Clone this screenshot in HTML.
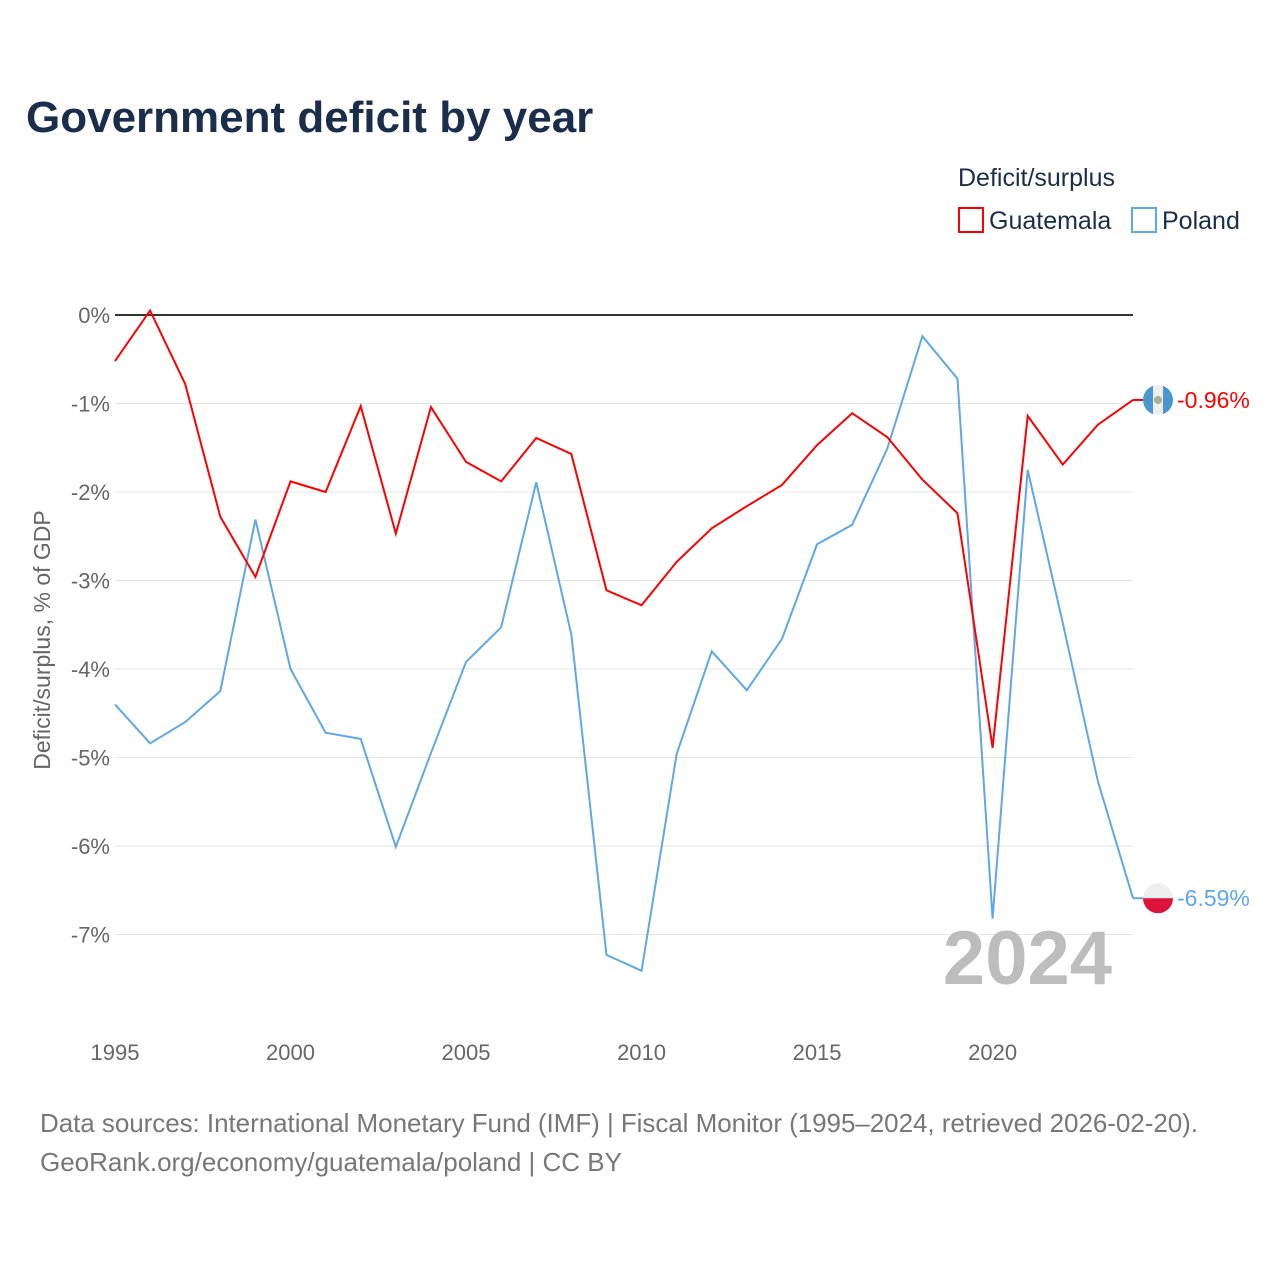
<!DOCTYPE html>
<html><head><meta charset="utf-8"><style>
body{margin:0;background:#fff;font-family:"Liberation Sans",sans-serif}
svg{display:block}
</style></head><body>
<svg id="chart" width="1280" height="1280" viewBox="0 0 1280 1280" font-family="Liberation Sans, sans-serif">
<defs id="defs"></defs>
<text x="26" y="132" font-size="44" font-weight="bold" fill="#1a2e4c">Government deficit by year</text>
<text x="958" y="186" font-size="25" fill="#1a2e4c">Deficit/surplus</text>
<g><rect x="959" y="208" width="24" height="24" fill="none" stroke="#ff0000" stroke-width="2"/><text x="989" y="229" font-size="25" fill="#1a2e4c">Guatemala</text></g>
<g><rect x="1132" y="208" width="24" height="24" fill="none" stroke="#5fa7e8" stroke-width="2"/><text x="1162" y="229" font-size="25" fill="#1a2e4c">Poland</text></g>
<g id="grid"></g><g id="yticks"></g><g id="xticks"></g>
<text transform="translate(50,640) rotate(-90)" text-anchor="middle" font-size="23" fill="#666">Deficit/surplus, % of GDP</text>
<text x="1112" y="984" text-anchor="end" font-size="76" font-weight="bold" fill="#bdbdbd">2024</text>
<g id="series"></g>
<text x="40" y="1132" font-size="26" fill="#777" textLength="1158">Data sources: International Monetary Fund (IMF) | Fiscal Monitor (1995–2024, retrieved 2026-02-20).</text>
<text x="40" y="1171" font-size="26" fill="#777">GeoRank.org/economy/guatemala/poland | CC BY</text>
</svg>
<script>
const years=[1995,1996,1997,1998,1999,2000,2001,2002,2003,2004,2005,2006,2007,2008,2009,2010,2011,2012,2013,2014,2015,2016,2017,2018,2019,2020,2021,2022,2023,2024];
const guatemala=[-0.52,0.05,-0.78,-2.28,-2.96,-1.88,-2.0,-1.03,-2.47,-1.04,-1.66,-1.88,-1.39,-1.57,-3.11,-3.28,-2.79,-2.41,-2.16,-1.92,-1.47,-1.11,-1.38,-1.86,-2.24,-4.89,-1.14,-1.69,-1.24,-0.96];
const poland=[-4.40,-4.84,-4.60,-4.25,-2.31,-4.0,-4.72,-4.79,-6.01,-4.95,-3.92,-3.53,-1.89,-3.61,-7.23,-7.41,-4.96,-3.80,-4.24,-3.66,-2.59,-2.37,-1.51,-0.24,-0.72,-6.82,-1.75,-3.48,-5.27,-6.59];
const yTicks=[0,-1,-2,-3,-4,-5,-6,-7];
const xTicks=[1995,2000,2005,2010,2015,2020];
const NS="http://www.w3.org/2000/svg";
const X=v=>115+(v-1995)*(1133-115)/29;
const Y=v=>315-v*88.5;
function mk(t,a,p){const e=document.createElementNS(NS,t);for(const k in a)e.setAttribute(k,a[k]);p.appendChild(e);return e;}
const grid=document.getElementById('grid'),yt=document.getElementById('yticks'),xt=document.getElementById('xticks'),ser=document.getElementById('series'),defs=document.getElementById('defs');
yTicks.forEach(v=>{
 const l=mk('line',{x1:115,x2:1133,y1:Y(v),y2:Y(v),stroke:v===0?'#333':'#e6e6e6','stroke-width':v===0?2:1},grid);
 
 
 const t=mk('text',{x:110,y:Y(v)+8,'text-anchor':'end','font-size':22,fill:'#666'},yt);
 t.textContent=v+'%';
 
 
});
xTicks.forEach(v=>{
 const t=mk('text',{x:X(v),y:1060,'text-anchor':'middle','font-size':22,fill:'#666'},xt);
 t.textContent=v;
 
 
});
function line(vals,color,name){
 const p=mk('polyline',{points:vals.map((v,i)=>X(years[i])+','+Y(v)).join(' '),fill:'none',stroke:color,'stroke-width':2,'stroke-linejoin':'miter'},ser);
 
 
 const last=vals[vals.length-1],lx=X(years[years.length-1]);
 mk('line',{x1:lx,x2:lx+10,y1:Y(last),y2:Y(last),stroke:color,'stroke-width':2},ser);
 const cp=mk('clipPath',{id:'clip-'+name},defs);
 mk('circle',{cx:lx+25,cy:Y(last),r:15},cp);
 const g=mk('g',{'clip-path':'url(#clip-'+name+')'},ser);
 const c=mk('circle',{cx:lx+25,cy:Y(last),r:15,fill:'#eee'},g);
 
 
 if(name==='poland'){mk('rect',{x:lx+10,y:Y(last),width:30,height:15,fill:'#dc143c'},g);}
 else{mk('rect',{x:lx+10,y:Y(last)-15,width:10,height:30,fill:'#4997d0'},g);mk('rect',{x:lx+30,y:Y(last)-15,width:10,height:30,fill:'#4997d0'},g);mk('circle',{cx:lx+25,cy:Y(last),r:4,fill:'#a9b08a'},g);}
 const t=mk('text',{x:lx+44,y:Y(last)+8,'font-size':23,fill:color},ser);
 t.textContent=last.toFixed(2)+'%';
 
 
}
line(poland,'#5fa7e8','poland');
line(guatemala,'#ff0000','guatemala');
</script>
</body></html>
